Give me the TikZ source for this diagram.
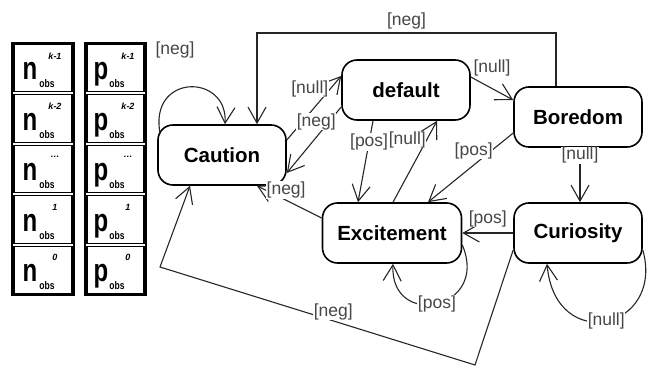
\documentclass[tikz,border=0pt]{standalone}
\usepackage{fontspec}
\setmainfont{Liberation Sans}
\usepackage{graphicx}
\usetikzlibrary{arrows.meta,calc}
\begin{document}
\begin{tikzpicture}[x=1pt,y=-1pt,
  state/.style={draw=black, line width=1.6pt, rounded corners=15pt, minimum width=128pt, minimum height=60pt, font=\fontsize{20.5}{24}\selectfont\bfseries, inner sep=0pt},
  arr/.style={draw=black!85, line width=1.1pt, -{Straight Barb[length=16pt,width=18pt]}},
  lab/.style={font=\fontsize{17.5}{20}\selectfont, text=black!72, fill=white, inner sep=0.5pt},
  cell/.style={draw, line width=1.1pt},
  big/.style={font=\fontsize{32}{32}\selectfont\bfseries, inner sep=0pt, anchor=base},
  sup/.style={font=\fontsize{9}{9}\selectfont\bfseries\itshape, inner sep=0pt},
  sub/.style={font=\fontsize{10}{10}\selectfont\bfseries, inner sep=0pt},
]
\useasboundingbox (0,0) rectangle (655,371);

% observation table
\foreach \i/\s in {0/k-1,1/k-2,2/\ldots,3/1,4/0} {
  \pgfmathsetmacro\t{43+50.4*\i}
  \draw[cell] (14,\t+1.5) rectangle (72,\t+48.9);
  \draw[cell] (87,\t+1.5) rectangle (144,\t+48.9);
  \node[big] (n\i) at (30,\t+37) {\scalebox{0.75}[1]{n}};
  \node[sup] (ns\i) at (55,\t+13) {\s};
  \node[sub] (nb\i) at (47,\t+41) {\scalebox{0.85}[1.1]{obs}};
  \node[big] (p\i) at (101,\t+37) {\scalebox{0.75}[1]{p}};
  \node[sup] (ps\i) at (128,\t+13) {\s};
  \node[sub] (pb\i) at (117,\t+41) {\scalebox{0.85}[1.1]{obs}};
}
\draw[line width=1.5pt] (12,43) rectangle (74,295);
\draw[line width=1.5pt] (85,43) rectangle (146,295);

% states
\node[state] (caution) at (222,155) {Caution};
\node[state] (default) at (406,90) {default};
\node[state] (boredom) at (578,117) {Boredom};
\node[state, minimum width=139pt] (excite) at (392,233) {Excitement};
\node[state] (curio) at (578,233) {Curiosity};

% Caution self loop
\draw[arr] ([shift={(3pt,-10pt)}]caution.north west) .. controls (148,73) and (228,73) .. ([xshift=3pt]caution.north);
\node[lab] (lcaut) at (175,50) {[neg]};

% Boredom -> Caution over the top
\coordinate (topc) at (257,33);
\draw[arr] ([xshift=-22pt]boredom.north) |- (topc) node[lab, pos=0.75, above=3pt] {[neg]} -- ([xshift=35pt]caution.north);

% Caution <-> default
\draw[arr] ([yshift=15pt]caution.east) -- node[lab, pos=0.8, left=1pt] {[null]} ([yshift=14pt]default.west);
\draw[arr] ([yshift=-17pt]default.west) -- node[lab, pos=0.22, xshift=-13pt] {[neg]} ([yshift=-18pt]caution.east);

% default -> Boredom
\draw[arr] ([yshift=13pt]default.east) -- node[lab, above=11pt] {[null]} ([yshift=17pt]boredom.west);

% default <-> Excitement
\draw[arr] ([xshift=-33pt]default.south) -- node[lab, pos=0.26] {[pos]} ([xshift=-34pt]excite.north);
\draw[arr] ([xshift=1pt]excite.north) -- node[lab, pos=0.77, left=0pt] {[null]} ([xshift=31pt]default.south);

% Boredom -> Excitement
\draw[arr] ([yshift=-16pt]boredom.west) -- node[lab, pos=0.3, xshift=-14pt, yshift=3pt] {[pos]} ([xshift=36pt]excite.north);

% Boredom -> Curiosity
\draw[arr] ([xshift=2pt]boredom.south) -- node[lab, pos=0.14] {[null]} ([xshift=2pt]curio.north);

% Curiosity -> Excitement
\draw[arr] (curio.west) -- node[lab, above=5pt] {[pos]} (excite.east);

% Excitement -> Caution
\draw[arr] ([yshift=15pt]excite.west) -- node[lab, pos=0.55, above=1pt] {[neg]} ([xshift=35pt]caution.south);

% Excitement self loop
\draw[arr] ([yshift=-12pt]excite.east) .. controls (490,310) and (390,330) .. ([xshift=1pt]excite.south) node[lab, pos=0.5] {[pos]};

% Curiosity self loop
\draw[arr] ([yshift=-17pt]curio.east) .. controls (665,330) and (555,355) .. ([xshift=-31pt]curio.south) node[lab, pos=0.5] {[null]};

% Curiosity -> Caution around the bottom
\coordinate (b1) at (475,365);
\coordinate (b2) at (160,267);
\draw[arr] ([yshift=-17pt]curio.west) -- (b1) -- node[lab, pos=0.45, above=0pt] {[neg]} (b2) -- ([xshift=-32pt]caution.south);
\end{tikzpicture}
\end{document}
